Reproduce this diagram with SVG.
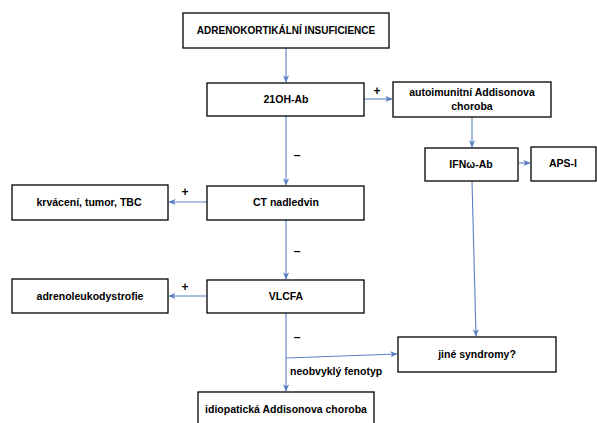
<svg xmlns="http://www.w3.org/2000/svg" width="597" height="423" viewBox="0 0 597 423">
<defs>
<style>
.box{fill:#fff;stroke:#000;stroke-width:1.3}
.t{font-family:"Liberation Sans",Arial,sans-serif;font-weight:bold;font-size:10.5px;fill:#000;text-anchor:middle}
.c{fill:none;stroke:#5b7fc4;stroke-width:1.1}
.s{font-family:"Liberation Sans",Arial,sans-serif;font-weight:bold;font-size:12px;fill:#000;text-anchor:middle}
</style>
<marker id="ah" viewBox="0 0 8 8" refX="7.5" refY="4" markerWidth="7" markerHeight="7" markerUnits="userSpaceOnUse" orient="auto">
<path d="M0,0.5 L8,4 L0,7.5 L2,4 Z" fill="#5b7fc4"/>
</marker>
</defs>
<rect width="597" height="423" fill="#fff"/>
<g id="connectors">
<line class="c" x1="286" y1="48" x2="286" y2="82" marker-end="url(#ah)"/>
<line class="c" x1="364" y1="99" x2="392" y2="99" marker-end="url(#ah)"/>
<line class="c" x1="472" y1="117" x2="472" y2="147" marker-end="url(#ah)"/>
<line class="c" x1="519" y1="163" x2="530" y2="163" marker-end="url(#ah)"/>
<line class="c" x1="472" y1="181" x2="476" y2="336" marker-end="url(#ah)"/>
<line class="c" x1="286" y1="116" x2="286" y2="185" marker-end="url(#ah)"/>
<line class="c" x1="207" y1="202" x2="169" y2="202" marker-end="url(#ah)"/>
<line class="c" x1="286" y1="220" x2="286" y2="279" marker-end="url(#ah)"/>
<line class="c" x1="207" y1="296" x2="169" y2="296" marker-end="url(#ah)"/>
<line class="c" x1="286" y1="313" x2="286" y2="391" marker-end="url(#ah)"/>
<line class="c" x1="286" y1="358" x2="397" y2="354" marker-end="url(#ah)"/>
<text class="s" x="377" y="95">+</text>
<text class="s" x="185" y="196">+</text>
<text class="s" x="185" y="291">+</text>
<text class="s" x="297" y="159">–</text>
<text class="s" x="297" y="255">–</text>
<text class="s" x="297" y="341">–</text>
<text class="t" x="290" y="375" style="text-anchor:start">neobvyklý fenotyp</text>
</g>
<g id="n-adrenokorticalni">
<rect class="box" x="183" y="13" width="206" height="35"/>
<text class="t" x="286" y="34" style="font-size:10px">ADRENOKORTIKÁLNÍ INSUFICIENCE</text>
</g>
<g id="n-21oh">
<rect class="box" x="207" y="83" width="157" height="33"/>
<text class="t" x="286" y="103">21OH-Ab</text>
</g>
<g id="n-autoimunitni">
<rect class="box" x="393" y="82" width="158" height="35"/>
<text class="t" x="472" y="96">autoimunitní Addisonova</text>
<text class="t" x="472" y="110">choroba</text>
</g>
<g id="n-ifn">
<rect class="box" x="425" y="148" width="93" height="33"/>
<text class="t" x="471" y="168">IFNω-Ab</text>
</g>
<g id="n-aps">
<rect class="box" x="531" y="147" width="65" height="34"/>
<text class="t" x="563" y="167">APS-I</text>
</g>
<g id="n-ct">
<rect class="box" x="207" y="186" width="157" height="34"/>
<text class="t" x="286" y="206">CT nadledvin</text>
</g>
<g id="n-krvaceni">
<rect class="box" x="12" y="185" width="156" height="35"/>
<text class="t" x="89" y="206">krvácení, tumor, TBC</text>
</g>
<g id="n-vlcfa">
<rect class="box" x="207" y="280" width="157" height="33"/>
<text class="t" x="286" y="300">VLCFA</text>
</g>
<g id="n-adrenoleuko">
<rect class="box" x="12" y="279" width="156" height="34"/>
<text class="t" x="90" y="300">adrenoleukodystrofie</text>
</g>
<g id="n-jine">
<rect class="box" x="398" y="337" width="158" height="35"/>
<text class="t" x="477" y="358">jiné syndromy?</text>
</g>
<g id="n-idiopaticka">
<rect class="box" x="198" y="392" width="176" height="36"/>
<text class="t" x="286" y="413">idiopatická Addisonova choroba</text>
</g>
</svg>
